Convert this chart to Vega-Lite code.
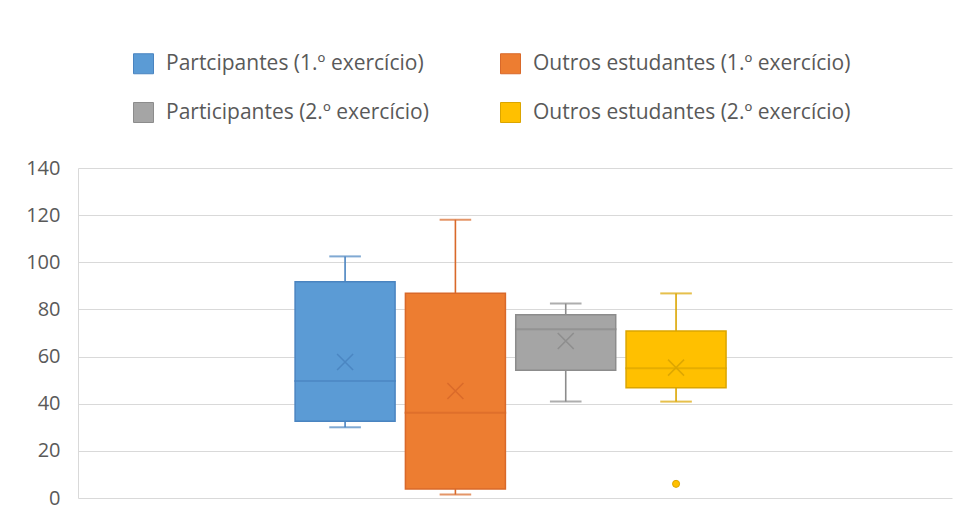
{
  "$schema": "https://vega.github.io/schema/vega-lite/v6.json",
  "autosize": "none",
  "width": 874,
  "height": 330,
  "padding": {"left": 78, "top": 168, "right": 3, "bottom": 22},
  "background": "white",
  "config": {
    "font": "Open Sans",
    "view": {"stroke": null},
    "axis": {
      "labelFont": "Open Sans",
      "labelFontSize": 20,
      "labelColor": "#595959",
      "gridColor": "#d9d9d9",
      "gridWidth": 1.2,
      "ticks": false
    },
    "legend": {
      "labelFont": "Open Sans",
      "labelFontSize": 21,
      "labelColor": "#595959",
      "padding": 0
    }
  },
  "datasets": {
    "stats": [
      {"serie": "Partcipantes (1.º exercício)", "min": 30, "q1": 32.6, "mediana": 49.6, "q3": 91.7, "max": 102.5, "media": 57.7},
      {"serie": "Outros estudantes (1.º exercício)", "min": 1.5, "q1": 3.8, "mediana": 36.2, "q3": 86.9, "max": 118, "media": 45.4},
      {"serie": "Participantes (2.º exercício)", "min": 40.9, "q1": 54.2, "mediana": 71.6, "q3": 77.7, "max": 82.5, "media": 66.6},
      {"serie": "Outros estudantes (2.º exercício)", "min": 40.9, "q1": 46.8, "mediana": 55, "q3": 70.9, "max": 86.8, "media": 55.3}
    ],
    "outliers": [
      {"serie": "Outros estudantes (2.º exercício)", "valor": 6}
    ]
  },
  "data": {"name": "stats"},
  "encoding": {
    "x": {
      "datum": "1",
      "type": "nominal",
      "axis": null,
      "scale": {"type": "band", "paddingInner": 0, "paddingOuter": 0.514, "align": 0.49}
    },
    "xOffset": {
      "field": "serie",
      "type": "nominal",
      "scale": {
        "domain": ["Partcipantes (1.º exercício)", "Outros estudantes (1.º exercício)", "Participantes (2.º exercício)", "Outros estudantes (2.º exercício)"],
        "paddingInner": 0.0936,
        "paddingOuter": 0
      }
    }
  },
  "layer": [
    {
      "mark": {"type": "rule", "strokeWidth": 1.6},
      "encoding": {
        "y": {
          "field": "min",
          "type": "quantitative",
          "scale": {"domain": [0, 140]},
          "axis": {"values": [0, 20, 40, 60, 80, 100, 120, 140], "title": null, "domain": true, "domainColor": "#d9d9d9", "labelPadding": 18}
        },
        "y2": {"field": "max"},
        "stroke": {
          "field": "serie",
          "type": "nominal",
          "scale": {
            "domain": ["Partcipantes (1.º exercício)", "Outros estudantes (1.º exercício)", "Participantes (2.º exercício)", "Outros estudantes (2.º exercício)"],
            "range": ["#4a84c0", "#d9692a", "#8c8c8c", "#dba500"]
          }
        }
      }
    },
    {
      "mark": {"type": "tick", "filled": false, "size": 30, "thickness": 0.4, "strokeWidth": 1.6},
      "encoding": {
        "y": {"field": "min", "type": "quantitative"},
        "stroke": {"field": "serie", "type": "nominal"}
      }
    },
    {
      "mark": {"type": "tick", "filled": false, "size": 30, "thickness": 0.4, "strokeWidth": 1.6},
      "encoding": {
        "y": {"field": "max", "type": "quantitative"},
        "stroke": {"field": "serie", "type": "nominal"}
      }
    },
    {
      "mark": {"type": "bar", "strokeWidth": 1.5},
      "encoding": {
        "y": {"field": "q1", "type": "quantitative"},
        "y2": {"field": "q3"},
        "fill": {
          "field": "serie",
          "type": "nominal",
          "scale": {
            "domain": ["Partcipantes (1.º exercício)", "Outros estudantes (1.º exercício)", "Participantes (2.º exercício)", "Outros estudantes (2.º exercício)"],
            "range": ["#5b9bd5", "#ed7d31", "#a5a5a5", "#ffc000"]
          },
          "legend": {
            "title": null,
            "orient": "none",
            "legendX": 55,
            "legendY": -115,
            "columns": 2,
            "direction": "horizontal",
            "symbolType": "square",
            "symbolSize": 400,
            "symbolStrokeWidth": 1,
            "symbolOpacity": 1,
            "labelOffset": 12,
            "rowPadding": 24,
            "columnPadding": 69,
            "labelLimit": 400,
            "encode": {
              "symbols": {
                "update": {
                  "opacity": {"value": 1},
                  "fillOpacity": {"value": 1}
                }
              }
            }
          }
        },
        "stroke": {"field": "serie", "type": "nominal"}
      }
    },
    {
      "mark": {"type": "tick", "filled": false, "size": 100, "thickness": 0.4, "strokeWidth": 1.6},
      "encoding": {
        "y": {"field": "mediana", "type": "quantitative"},
        "stroke": {"field": "serie", "type": "nominal"}
      }
    },
    {
      "mark": {"type": "point", "shape": "M-1,-1L1,1M1,-1L-1,1", "size": 256, "filled": false, "strokeWidth": 1.5, "opacity": 0.9},
      "encoding": {
        "y": {"field": "media", "type": "quantitative"},
        "stroke": {"field": "serie", "type": "nominal"}
      }
    },
    {
      "data": {"name": "outliers"},
      "mark": {"type": "point", "shape": "circle", "size": 50, "filled": true, "opacity": 1, "strokeWidth": 1},
      "encoding": {
        "y": {"field": "valor", "type": "quantitative"},
        "fill": {"field": "serie", "type": "nominal"},
        "stroke": {"field": "serie", "type": "nominal"}
      }
    }
  ]
}
